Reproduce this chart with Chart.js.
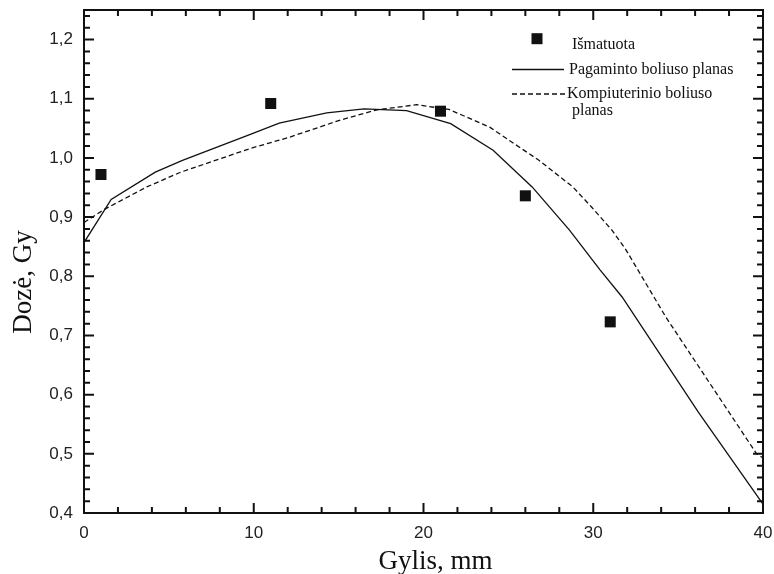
<!DOCTYPE html>
<html>
<head>
<meta charset="utf-8">
<script src="https://cdn.jsdelivr.net/npm/chart.js@4/dist/chart.umd.min.js"></script>
<style>
  html, body { margin: 0; padding: 0; background: #fff; }
  #wrap { width: 774px; height: 574px; }
</style>
</head>
<body>
<div id="wrap"><canvas id="c" width="774" height="574"></canvas></div>
<script>
// Measured dose points
const measuredDepth = [1, 11, 21, 26, 31];
const measuredDose  = [0.972, 1.092, 1.079, 0.936, 0.723];

// Plan of the manufactured bolus (solid curve)
const madeDepth = [0, 1.6, 4.2, 5.8, 9.8, 11.5, 14.3, 16.5, 19.0, 21.6, 24.1, 26.4, 28.6, 30.4, 31.7, 36.2, 40];
const madeDose  = [0.857, 0.930, 0.976, 0.996, 1.040, 1.059, 1.076, 1.083, 1.080, 1.058, 1.013, 0.951, 0.878, 0.811, 0.765, 0.570, 0.415];

// Plan of the computer bolus (dashed curve)
const compDepth = [0, 1.2, 3.7, 5.7, 9.8, 12.1, 15.1, 17.2, 19.6, 21.5, 23.9, 26.8, 28.8, 29.9, 31.1, 31.9, 34.3, 39.6, 40];
const compDose  = [0.891, 0.913, 0.951, 0.976, 1.016, 1.035, 1.064, 1.081, 1.090, 1.082, 1.052, 0.996, 0.951, 0.917, 0.878, 0.846, 0.730, 0.501, 0.493];

// Axis ticks
const xTickValues = [0, 10, 20, 30, 40];
const yTickValues = [0.4, 0.5, 0.6, 0.7, 0.8, 0.9, 1.0, 1.1, 1.2];

const xTitle = 'Gylis, mm';
const yTitle = 'Dozė, Gy';
const legendMeasured = ['Išmatuota'];
const legendMade = ['Pagaminto boliuso planas'];
const legendComp = ['Kompiuterinio boliuso', 'planas'];

const INK = '#111';
const SANS = "'Liberation Sans', Arial, sans-serif";
const SERIF = "'Liberation Serif', 'Times New Roman', serif";

const pairs = (xs, ys) => xs.map((v, i) => ({ x: v, y: ys[i] }));

// Box frame with inward major/minor ticks on all four sides, axis titles and legend
const framePlugin = {
  id: 'frame',
  afterDraw(chart) {
    const { ctx, chartArea: a, scales: { x, y } } = chart;
    ctx.save();
    ctx.strokeStyle = INK;
    ctx.lineWidth = 2;
    ctx.strokeRect(a.left, a.top, a.right - a.left, a.bottom - a.top);

    ctx.beginPath();
    for (let i = 0; i <= 20; i++) {
      const v = i * 2;
      const px = x.getPixelForValue(v);
      const len = (i % 5 === 0) ? 10 : 6;
      ctx.moveTo(px, a.bottom); ctx.lineTo(px, a.bottom - len);
      ctx.moveTo(px, a.top);    ctx.lineTo(px, a.top + len);
    }
    for (let i = 0; i <= 42; i++) {
      const v = 0.4 + i * 0.02;
      const py = y.getPixelForValue(v);
      const len = (i % 5 === 0) ? 10 : 6;
      ctx.moveTo(a.left, py);  ctx.lineTo(a.left + len, py);
      ctx.moveTo(a.right, py); ctx.lineTo(a.right - len, py);
    }
    ctx.stroke();

    // axis titles
    ctx.fillStyle = INK;
    ctx.font = '27px ' + SERIF;
    ctx.textAlign = 'center';
    ctx.textBaseline = 'alphabetic';
    ctx.fillText(xTitle, (a.left + a.right) / 2 + 12, 569);
    ctx.save();
    ctx.translate(31, 282);
    ctx.rotate(-Math.PI / 2);
    ctx.fillText(yTitle, 0, 0);
    ctx.restore();

    // legend
    const lx = a.right - 251;
    ctx.font = '16px ' + SERIF;
    ctx.textAlign = 'left';
    ctx.fillRect(lx + 25 - 5.5, 38.7 - 5.5, 11, 11);
    ctx.fillText(legendMeasured[0], lx + 60, 48.5);

    ctx.lineWidth = 1.3;
    ctx.beginPath();
    ctx.moveTo(lx, 69.5); ctx.lineTo(lx + 52, 69.5);
    ctx.stroke();
    ctx.fillText(legendMade[0], lx + 57, 73.5);

    ctx.setLineDash([5, 3]);
    ctx.beginPath();
    ctx.moveTo(lx, 94); ctx.lineTo(lx + 54, 94);
    ctx.stroke();
    ctx.setLineDash([]);
    ctx.fillText(legendComp[0], lx + 55, 97.5);
    ctx.fillText(legendComp[1], lx + 60, 115);
    ctx.restore();
  }
};

new Chart(document.getElementById('c'), {
  type: 'scatter',
  data: {
    datasets: [
      {
        label: legendMeasured.join(' '),
        data: pairs(measuredDepth, measuredDose),
        pointStyle: 'rect',
        pointRadius: 7.8,
        pointHoverRadius: 7.8,
        backgroundColor: INK,
        borderWidth: 0,
        order: 0
      },
      {
        label: legendMade.join(' '),
        data: pairs(madeDepth, madeDose),
        showLine: true,
        pointRadius: 0,
        borderColor: INK,
        borderWidth: 1.3,
        tension: 0,
        order: 1
      },
      {
        label: legendComp.join(' '),
        data: pairs(compDepth, compDose),
        showLine: true,
        pointRadius: 0,
        borderColor: INK,
        borderWidth: 1.3,
        borderDash: [5, 3],
        tension: 0,
        order: 2
      }
    ]
  },
  options: {
    responsive: false,
    devicePixelRatio: 1,
    animation: false,
    layout: { padding: 0 },
    plugins: { legend: { display: false }, tooltip: { enabled: false } },
    scales: {
      x: {
        type: 'linear',
        min: 0, max: 40,
        afterBuildTicks: s => { s.ticks = xTickValues.map(v => ({ value: v })); },
        afterFit: s => { s.height = 61; s.paddingLeft = 0; s.paddingRight = 11; },
        grid: { display: false, drawTicks: false },
        border: { display: false },
        ticks: {
          padding: 10,
          color: '#222',
          font: { family: SANS, size: 17 },
          callback: v => String(v)
        }
      },
      y: {
        type: 'linear',
        min: 0.4, max: 1.25,
        afterBuildTicks: s => { s.ticks = yTickValues.map(v => ({ value: v })); },
        afterFit: s => { s.width = 84; s.paddingTop = 10; s.paddingBottom = 0; },
        grid: { display: false, drawTicks: false },
        border: { display: false },
        ticks: {
          padding: 11,
          color: '#222',
          font: { family: SANS, size: 17, lineHeight: 1 },
          callback: v => Number(v).toFixed(1).replace('.', ',')
        }
      }
    }
  },
  plugins: [framePlugin]
});
</script>
</body>
</html>
